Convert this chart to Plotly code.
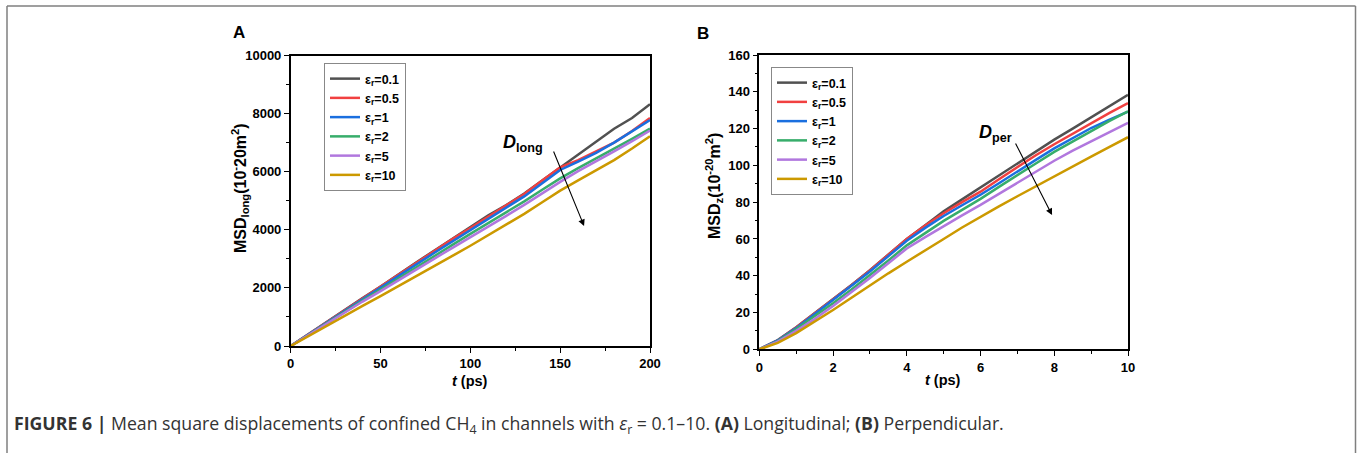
import plotly.graph_objects as go

W, H = 1358, 453

# ---------------- data ----------------
labels = ["ε<sub>r</sub>=0.1", "ε<sub>r</sub>=0.5", "ε<sub>r</sub>=1",
          "ε<sub>r</sub>=2", "ε<sub>r</sub>=5", "ε<sub>r</sub>=10"]
colors = ["#515151", "#F14040", "#1A6FDF", "#37AD6B", "#B177DE", "#CC9900"]

# Panel A: longitudinal MSD, t in ps
t_long = [0, 10, 20, 30, 40, 50, 60, 70, 80, 90, 100, 110, 120, 130, 140,
          150, 160, 170, 180, 190, 200]
msd_long_01 = [0, 420, 840, 1260, 1650, 2050, 2480, 2880, 3290, 3700, 4110,
               4500, 4850, 5250, 5700, 6150, 6600, 7050, 7480, 7850, 8320]
msd_long_05 = [0, 410, 830, 1240, 1640, 2040, 2460, 2860, 3270, 3680, 4060,
               4450, 4820, 5230, 5700, 6150, 6400, 6700, 7000, 7400, 7850]
msd_long_1 = [0, 405, 815, 1220, 1620, 2010, 2420, 2810, 3210, 3600, 3990,
              4380, 4750, 5150, 5600, 6060, 6350, 6650, 7000, 7400, 7780]
msd_long_2 = [0, 395, 790, 1180, 1560, 1940, 2330, 2720, 3100, 3480, 3860,
              4230, 4600, 4980, 5380, 5770, 6120, 6450, 6800, 7130, 7480]
msd_long_5 = [0, 385, 770, 1150, 1530, 1890, 2270, 2640, 3010, 3380, 3740,
              4110, 4480, 4860, 5260, 5650, 6020, 6350, 6700, 7050, 7420]
msd_long_10 = [0, 350, 700, 1040, 1380, 1720, 2060, 2400, 2750, 3100, 3450,
               3820, 4180, 4550, 4950, 5350, 5700, 6050, 6400, 6800, 7220]

# Panel B: perpendicular MSD, t in ps
t_per = [0, 0.5, 1, 1.5, 2, 2.5, 3, 3.5, 4, 4.5, 5, 5.5, 6, 6.5, 7, 7.5, 8,
         8.5, 9, 9.5, 10]
msd_z_01 = [0, 5, 12, 19.5, 27, 35, 43, 51.5, 60, 67.5, 75, 81.5, 88,
            94.5, 101, 107.5, 114, 120, 126, 132, 138.3]
msd_z_05 = [0, 4.8, 11.8, 19.3, 27, 34.8, 42.8, 51.3, 60, 67.3, 74, 80,
            85.7, 92.5, 99, 105.5, 111.5, 117.3, 123, 128.5, 133.8]
msd_z_1 = [0, 4.8, 11.5, 19, 26.8, 34.5, 42.3, 50.5, 59, 66, 72.5, 78.3,
           84, 90.3, 96.8, 103, 109.2, 114.8, 120.3, 124.9, 129.2]
msd_z_2 = [0, 4.5, 11, 18, 25, 32.5, 40.3, 48.3, 56.5, 63.3, 69.8, 75.8,
           81.8, 88.3, 94.8, 101, 107.3, 113, 118.7, 124.2, 129.4]
msd_z_5 = [0, 4.2, 10, 16.5, 23.5, 31, 38.8, 46.8, 54.8, 61, 67, 72.8,
           78.5, 84.5, 90.5, 96.5, 102.5, 108, 113, 118.2, 123.1]
msd_z_10 = [0, 3.5, 8.8, 15, 21.4, 28, 34.8, 41.3, 47.6, 54, 60, 66.2,
            72.1, 77.7, 83.2, 88.7, 94.2, 99.5, 104.8, 110, 115.3]

series_long = [msd_long_01, msd_long_05, msd_long_1, msd_long_2, msd_long_5, msd_long_10]
series_per = [msd_z_01, msd_z_05, msd_z_1, msd_z_2, msd_z_5, msd_z_10]

xticks_long = [0, 50, 100, 150, 200]
yticks_long = [0, 2000, 4000, 6000, 8000, 10000]
xticks_per = [0, 2, 4, 6, 8, 10]
yticks_per = [0, 20, 40, 60, 80, 100, 120, 140, 160]


def px(x):
    return x / W


def py(y):
    return 1 - y / H


FONT = "Liberation Sans, Arial, sans-serif"

fig = go.Figure()

for lab, col, ys in zip(labels, colors, series_long):
    fig.add_trace(go.Scatter(x=t_long, y=ys, mode="lines", name=lab,
                             line=dict(color=col, width=2.5),
                             xaxis="x", yaxis="y", legend="legend"))
for lab, col, ys in zip(labels, colors, series_per):
    fig.add_trace(go.Scatter(x=t_per, y=ys, mode="lines", name=lab,
                             line=dict(color=col, width=2.5),
                             xaxis="x2", yaxis="y2", legend="legend2"))

tickfont = dict(family=FONT, size=13, color="black", weight="bold")
axis_common = dict(showline=True, linecolor="black", linewidth=1.5, mirror=True,
                   ticks="outside", ticklen=5, tickwidth=1.2, tickcolor="black",
                   showgrid=False, zeroline=False, tickfont=tickfont,
                   tickformat="d", automargin=False)


def minor(vals):
    return dict(tickvals=vals, ticks="outside", ticklen=3, tickcolor="black", tickwidth=1)


legend_font = dict(family=FONT, size=12.5, color="black", weight="bold")

fig.update_layout(
    width=W, height=H,
    margin=dict(l=0, r=0, t=0, b=0, pad=0),
    paper_bgcolor="white", plot_bgcolor="white",
    showlegend=True,
    xaxis=dict(domain=[px(290.7), px(650)], range=[0, 200], anchor="y",
               tickvals=xticks_long, minor=minor([25, 75, 125, 175]), **axis_common),
    yaxis=dict(domain=[py(346), py(55.5)], range=[0, 10000], anchor="x",
               tickvals=yticks_long, minor=minor([1000, 3000, 5000, 7000, 9000]),
               **axis_common),
    xaxis2=dict(domain=[px(759.3), px(1128)], range=[0, 10], anchor="y2",
                tickvals=xticks_per, minor=minor([1, 3, 5, 7, 9]), **axis_common),
    yaxis2=dict(domain=[py(349.3), py(55)], range=[0, 160], anchor="x2",
                tickvals=yticks_per, minor=minor([10, 30, 50, 70, 90, 110, 130, 150]),
                **axis_common),
    legend=dict(x=px(324), y=py(63), xanchor="left", yanchor="top",
                bordercolor="#888888", borderwidth=1, bgcolor="white",
                font=legend_font, itemwidth=30, tracegroupgap=0),
    legend2=dict(x=px(771), y=py(67), xanchor="left", yanchor="top",
                 bordercolor="#888888", borderwidth=1, bgcolor="white",
                 font=legend_font, itemwidth=30, tracegroupgap=0),
)


def text_ann(text, x, y, size, angle=0, xanchor="center", color="black", family=FONT):
    return dict(text=text, x=px(x), y=py(y), xref="paper", yref="paper",
                xanchor=xanchor, yanchor="middle", textangle=angle, showarrow=False,
                font=dict(family=family, size=size, color=color))


ann = [
    text_ann("<b>A</b>", 239, 32, 17),
    text_ann("<b>B</b>", 703, 33, 17),
    text_ann("<b><i>t</i> (ps)</b>", 470, 381, 14.5),
    text_ann("<b><i>t</i> (ps)</b>", 943, 380, 14.5),
    text_ann("<b>MSD<sub>long</sub>(10<sup>-</sup>20m<sup>2</sup>)</b>", 240, 188, 16, -90),
    text_ann("<b>MSD<sub>z</sub>(10<sup>-20</sup>m<sup>2</sup>)</b>", 714, 186, 16, -90),
    text_ann("<b><i>D</i></b><sub><b>long</b></sub>", 523, 143, 18),
    text_ann("<b><i>D</i></b><sub><b>per</b></sub>", 996, 134, 18),
    text_ann("<b>FIGURE 6 |</b> Mean square displacements of confined CH<sub>4</sub> "
             "in channels with <i>ε</i><sub>r</sub> = 0.1–10. <b>(A)</b> Longitudinal; "
             "<b>(B)</b> Perpendicular.", 12, 424, 17.7, xanchor="left", color="#333333",
             family="Open Sans, Liberation Sans, sans-serif"),
    # trend arrows
    dict(x=163.3, y=4131, ax=146, ay=6747, xref="x", yref="y", axref="x", ayref="y",
         showarrow=True, arrowhead=2, arrowsize=1.2, arrowwidth=1.1,
         arrowcolor="black", text=""),
    dict(x=7.94, y=73.0, ax=6.93, ay=112.7, xref="x2", yref="y2", axref="x2",
         ayref="y2", showarrow=True, arrowhead=2, arrowsize=1.2, arrowwidth=1.1,
         arrowcolor="black", text=""),
]
fig.update_layout(annotations=ann)

# outer frame (left, top, right)
frame = dict(color="#7f7f7f", width=1.5)
fig.add_shape(type="line", xref="paper", yref="paper", x0=px(7), x1=px(7), y0=0, y1=py(6), line=frame)
fig.add_shape(type="line", xref="paper", yref="paper", x0=px(7), x1=px(1355.5), y0=py(6), y1=py(6), line=frame)
fig.add_shape(type="line", xref="paper", yref="paper", x0=px(1355.5), x1=px(1355.5), y0=0, y1=py(6), line=frame)

fig.write_html("out.html")
